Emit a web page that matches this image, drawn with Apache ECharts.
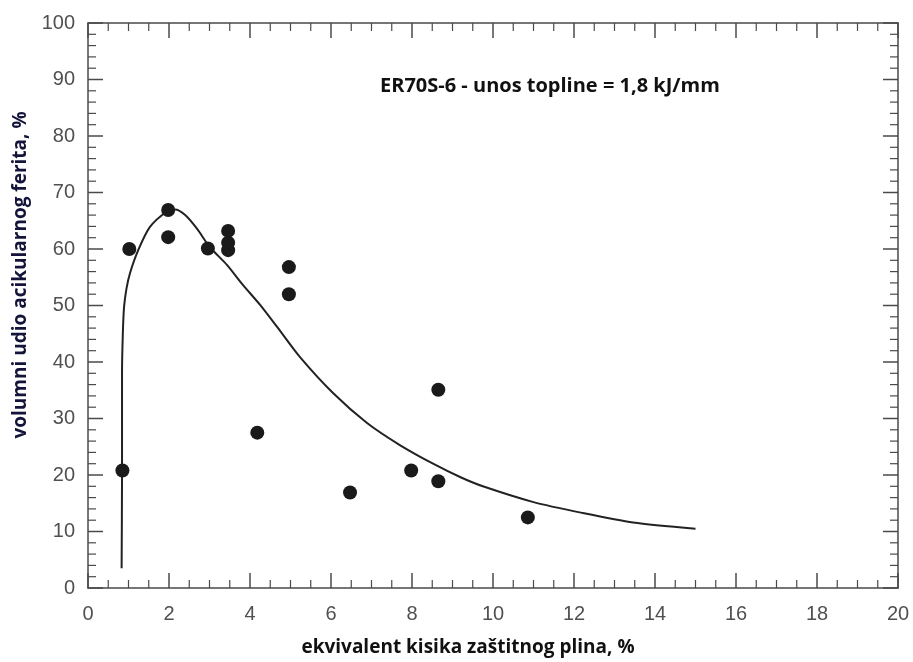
<!DOCTYPE html>
<html>
<head>
<meta charset="utf-8">
<script src="https://cdn.jsdelivr.net/npm/echarts@6/dist/echarts.min.js"></script>
<style>
html,body{margin:0;padding:0;background:#fff;}
#chart{width:913px;height:662px;}
</style>
</head>
<body>
<div id="chart"></div>
<script>
// Measured points
var pointX = [0.85, 1.02, 1.98, 1.98, 2.96, 3.46, 3.46, 3.46, 4.96, 4.96, 4.18, 6.47, 7.98, 8.65, 8.65, 10.86];
var pointY = [20.8, 60, 66.9, 62.1, 60.1, 63.2, 61.1, 59.8, 56.8, 52, 27.5, 16.9, 20.8, 18.9, 35.1, 12.5];
// Fitted curve
var curveX = [0.83, 0.84, 0.84, 0.86, 0.89, 0.95, 1.04, 1.24, 1.53, 1.94, 2.15, 2.4, 2.7, 3.0, 3.43, 3.83, 4.25, 4.67, 5.23, 6.05, 6.89, 7.7, 8.52, 9.2, 9.75, 11.0, 12.2, 13.46, 15.0];
var curveY = [3.5, 20, 38, 45, 49.7, 53, 55.8, 59.8, 63.9, 66.6, 67.0, 66.0, 63.5, 60.4, 57.2, 53.6, 50.1, 46.2, 40.9, 34.5, 29.2, 25.3, 22.0, 19.6, 18.0, 15.2, 13.3, 11.6, 10.5];
// Axis settings
var xMin = 0, xMax = 20, xStep = 2, xMinorSplit = 4;
var yMin = 0, yMax = 100, yStep = 10, yMinorSplit = 5;

var annotation = 'ER70S-6 - unos topline = 1,8 kJ/mm';
var xTitle = 'ekvivalent kisika zaštitnog plina, %';
var yTitle = 'volumni udio acikularnog ferita, %';

var scatterData = pointX.map(function (x, i) { return [x, pointY[i]]; });
var curveData = curveX.map(function (x, i) { return [x, curveY[i]]; });

// Tick positions (major + minor) derived from the axis settings
function tickList(min, max, step, split) {
  var out = [];
  var n = Math.round((max - min) / step) * split;
  for (var i = 0; i <= n; i++) {
    out.push([min + i * step / split, i % split === 0 ? 1 : 0]);
  }
  return out;
}
var xTicks = tickList(xMin, xMax, xStep, xMinorSplit).map(function (t) { return [t[0], yMin, t[1]]; });
var yTicks = tickList(yMin, yMax, yStep, yMinorSplit).map(function (t) { return [xMin, t[0], t[1]]; });

var axisColor = '#4a4a4a';
var majorLen = 15, minorLen = 8;

function tickLine(x1, y1, x2, y2, major) {
  return { type: 'line', shape: { x1: x1, y1: y1, x2: x2, y2: y2 },
    style: { stroke: axisColor, lineWidth: major ? 1.5 : 1.2 } };
}

function makeAxis(position, min, max, step, showLabel, margin) {
  return {
    type: 'value', position: position, min: min, max: max, interval: step,
    axisLine: { show: true, onZero: false, lineStyle: { color: axisColor, width: 1.5 } },
    axisTick: { show: false },
    minorTick: { show: false },
    splitLine: { show: false },
    axisLabel: { show: showLabel, color: '#505050', fontFamily: 'Liberation Sans', fontSize: 20, margin: margin }
  };
}

var chart = echarts.init(document.getElementById('chart'));
chart.setOption({
  backgroundColor: '#ffffff',
  animation: false,
  grid: { left: 88, right: 15, top: 23, bottom: 74, containLabel: false },
  xAxis: [
    makeAxis('bottom', xMin, xMax, xStep, true, 16),
    makeAxis('top', xMin, xMax, xStep, false, 8)
  ],
  yAxis: [
    makeAxis('left', yMin, yMax, yStep, true, 13),
    makeAxis('right', yMin, yMax, yStep, false, 8)
  ],
  graphic: [
    { type: 'text', x: 380, y: 86, style: { text: annotation, fill: '#111', font: 'bold 20px "Open Sans"', textAlign: 'left', textVerticalAlign: 'middle' } },
    { type: 'text', x: 468, y: 648, style: { text: xTitle, fill: '#111', font: 'bold 19px "Open Sans"', textAlign: 'center', textVerticalAlign: 'middle' } },
    { type: 'text', x: 21, y: 275, rotation: Math.PI / 2, style: { text: yTitle, fill: '#14143a', font: 'bold 19px "Open Sans"', textAlign: 'center', textVerticalAlign: 'middle' } }
  ],
  series: [
    { // inward ticks on bottom and top edges
      type: 'custom', xAxisIndex: 0, yAxisIndex: 0, data: xTicks, silent: true, clip: false, z: 1,
      renderItem: function (params, api) {
        var v = api.value(0), major = api.value(2) === 1;
        var len = major ? majorLen : minorLen;
        var b = api.coord([v, yMin]), t = api.coord([v, yMax]);
        return { type: 'group', children: [
          tickLine(b[0], b[1], b[0], b[1] - len, major),
          tickLine(t[0], t[1], t[0], t[1] + len, major)
        ] };
      }
    },
    { // inward ticks on left and right edges
      type: 'custom', xAxisIndex: 0, yAxisIndex: 0, data: yTicks, silent: true, clip: false, z: 1,
      renderItem: function (params, api) {
        var v = api.value(1), major = api.value(2) === 1;
        var len = major ? majorLen : minorLen;
        var l = api.coord([xMin, v]), r = api.coord([xMax, v]);
        return { type: 'group', children: [
          tickLine(l[0], l[1], l[0] + len, l[1], major),
          tickLine(r[0], r[1], r[0] - len, r[1], major)
        ] };
      }
    },
    { type: 'line', xAxisIndex: 0, yAxisIndex: 0, data: curveData, showSymbol: false, smooth: 0.25,
      lineStyle: { color: '#222', width: 2 }, z: 2 },
    { type: 'scatter', xAxisIndex: 0, yAxisIndex: 0, data: scatterData, symbol: 'circle', symbolSize: 14,
      itemStyle: { color: '#1a1a1a', opacity: 1 }, z: 3 }
  ]
});
</script>
</body>
</html>
